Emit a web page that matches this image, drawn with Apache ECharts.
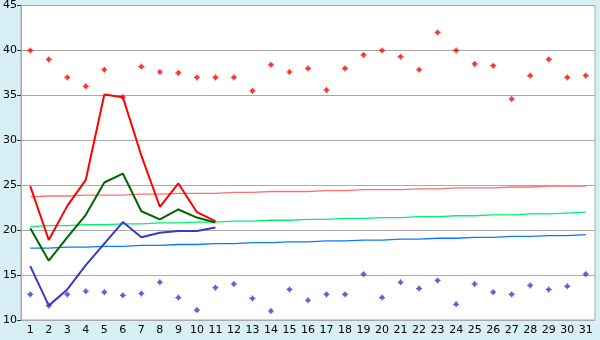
<!DOCTYPE html>
<html>
<head>
<meta charset="utf-8">
<script src="https://cdn.jsdelivr.net/npm/echarts@6/dist/echarts.min.js"></script>
<style>
html,body{margin:0;padding:0;background:#D9EFF6;}
#c{width:600px;height:340px;}
</style>
</head>
<body>
<div id="c"></div>
<script>
var days = ['1','2','3','4','5','6','7','8','9','10','11','12','13','14','15','16','17','18','19','20','21','22','23','24','25','26','27','28','29','30','31'];
var recordMax = [40,39,37,36,37.85,34.8,38.2,37.6,37.5,37,37,37,35.5,38.4,37.6,38,35.6,38,39.5,40,39.3,37.85,42,40,38.5,38.3,34.6,37.2,39,37,37.2];
var recordMin = [12.85,11.6,12.85,13.2,13.1,12.75,12.95,14.2,12.5,11.1,13.6,14,12.4,11,13.4,12.2,12.85,12.85,15.1,12.5,14.2,13.5,14.4,11.75,14,13.1,12.85,13.85,13.4,13.75,15.1];
var tempMax = [24.9,18.9,22.7,25.6,35.1,34.8,28.3,22.6,25.2,22.0,21.0];
var tempMean = [20.2,16.6,19.2,21.7,25.3,26.3,22.1,21.2,22.3,21.4,20.85];
var tempMin = [16.0,11.6,13.4,16.1,18.5,20.9,19.2,19.7,19.9,19.9,20.3];
var normalMax = [23.7,23.8,23.8,23.9,23.9,23.9,24.0,24.0,24.1,24.1,24.1,24.2,24.2,24.3,24.3,24.3,24.4,24.4,24.5,24.5,24.5,24.6,24.6,24.7,24.7,24.7,24.8,24.8,24.9,24.9,24.9];
var normalMean = [20.4,20.5,20.5,20.6,20.6,20.7,20.7,20.8,20.8,20.9,20.9,21.0,21.0,21.1,21.1,21.2,21.2,21.3,21.3,21.4,21.4,21.5,21.5,21.6,21.6,21.7,21.7,21.8,21.8,21.9,22.0];
var normalMin = [18.0,18.0,18.1,18.1,18.2,18.2,18.3,18.3,18.4,18.4,18.5,18.5,18.6,18.6,18.7,18.7,18.8,18.8,18.9,18.9,19.0,19.0,19.1,19.1,19.2,19.2,19.3,19.3,19.4,19.4,19.5];

var marker = 'path://M2,0H3V1H4V2H5V3H4V4H3V5H2V4H1V3H0V2H1V1H2Z';
var font = 'DejaVu Sans';

var chart = echarts.init(document.getElementById('c'), null, {renderer:'canvas'});
function lineS(data, color, w, z){
  return {type:'line', data:data, symbol:'none', lineStyle:{color:color, width:w}, itemStyle:{color:color}, z:z, animation:false, silent:true};
}
chart.setOption({
  animation:false,
  backgroundColor:'#D9EFF6',
  grid:{left:20, right:5, top:5, bottom:20, show:true, backgroundColor:'#ffffff', borderColor:'#aaaaaa', borderWidth:1, containLabel:false},
  xAxis:{type:'category', data:days, boundaryGap:true,
    axisLine:{lineStyle:{color:'#aaaaaa'}},
    axisTick:{alignWithLabel:true, length:4, lineStyle:{color:'#333333'}},
    axisLabel:{color:'#000', fontFamily:font, fontSize:11, margin:5, interval:0},
    splitLine:{show:false}},
  yAxis:{type:'value', min:10, max:45, interval:5,
    axisLine:{show:true, lineStyle:{color:'#aaaaaa'}},
    axisTick:{show:true, length:4, lineStyle:{color:'#333333'}},
    axisLabel:{color:'#000', fontFamily:font, fontSize:11, margin:4},
    splitLine:{lineStyle:{color:'#aaaaaa', width:1}}},
  series:[
    lineS(normalMax, '#FF7070', 1.3, 2),
    lineS(normalMean, '#00F070', 1.3, 2),
    lineS(normalMin, '#0A78FF', 1.3, 2),
    {type:'scatter', data:recordMax, symbol:marker, symbolSize:6, itemStyle:{color:'#FF0000'}, z:2, silent:true},
    {type:'scatter', data:recordMin, symbol:marker, symbolSize:6, itemStyle:{color:'#3838CC'}, z:2, silent:true},
    lineS(tempMax, '#FF0000', 2, 3),
    lineS(tempMean, '#006600', 2, 3),
    lineS(tempMin, '#3838CC', 2, 3)
  ]
});
</script>
</body>
</html>
